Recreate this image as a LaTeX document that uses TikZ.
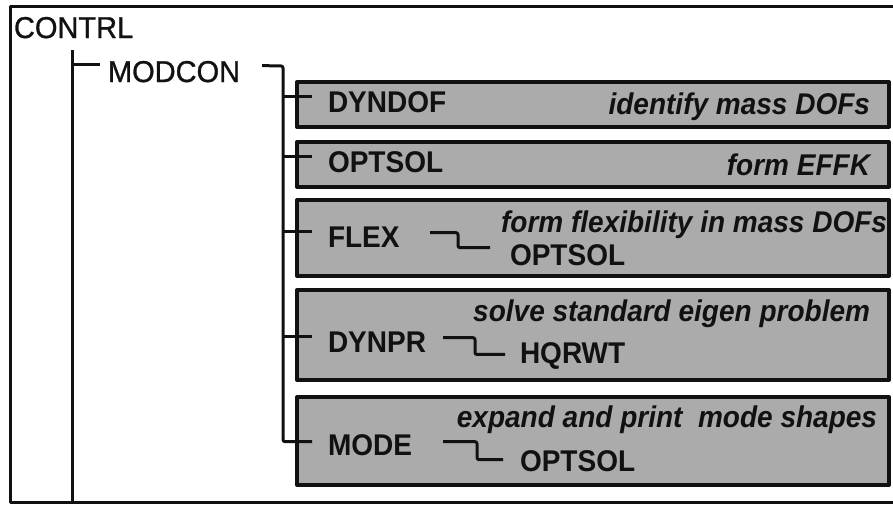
\documentclass[tikz,border=0pt]{standalone}
\usepackage{fontspec}
\setmainfont{Liberation Sans}
\newfontfamily\topfont[FakeBold=1]{Liberation Sans}
\usetikzlibrary{calc}
\definecolor{boxshade}{HTML}{ABABAB}
\definecolor{inkcolor}{HTML}{111111}

\begin{document}
\begin{tikzpicture}[
    x=1pt, y=-1pt,
    line width=3pt,
    line join=round,
    draw=inkcolor,
    every node/.style={inner sep=0pt, outer sep=0pt, text=inkcolor},
    topname/.style={font=\topfont\fontsize{29}{31}\selectfont, anchor=base west, yscale=1.04},
    subname/.style={font=\fontsize{28}{30}\selectfont\bfseries, anchor=base west, yscale=1.07},
    duty/.style={font=\fontsize{28}{30}\selectfont\bfseries\itshape, anchor=base east, yscale=1.07},
    unitbox/.style={draw=inkcolor, fill=boxshade, line width=4pt, anchor=north west, minimum width=592pt},
    link/.style={rounded corners=2pt}
]

    % Page size and outer frame (right side runs off the page)
    \useasboundingbox (0,0) rectangle (893,504);
    \draw (893,6) -- (10,6) -- (10,502) -- (893,502);

    % Top level
    \node[topname] (contrl) at (14,38) {CONTRL};
    \node[topname] (modcon) at (108,82) {MODCON};
    \coordinate (trunktop) at (72,50);
    \coordinate (trunkbot) at (72,502);
    \coordinate (mctick) at ($(modcon.west)+(-8,-7)$);
    \draw (trunktop) -- (trunkbot);
    \draw (trunktop |- mctick) -- (mctick);

    % Shaded boxes for the MODCON calls
    \node[unitbox, minimum height=45pt] (dyndofbox) at (297,82) {};
    \node[unitbox, minimum height=45pt] (optsolbox) at (297,142) {};
    \node[unitbox, minimum height=76pt] (flexbox) at (297,200) {};
    \node[unitbox, minimum height=90pt] (dynprbox) at (297,290) {};
    \node[unitbox, minimum height=88pt] (modebox) at (297,397) {};

    % Routine names
    \node[subname] (dyndof) at (328,112) {DYNDOF};
    \node[subname] (optsol) at (328,172) {OPTSOL};
    \node[subname] (flex) at (328,247) {FLEX};
    \node[subname] (dynpr) at (328,352) {DYNPR};
    \node[subname] (mode) at (328,455) {MODE};

    % What each one does
    \node[duty] (dyndofduty) at (870,114) {identify mass DOFs};
    \node[duty] (optsolduty) at (870,175) {form EFFK};
    \node[duty] (flexduty) at (887,232) {form flexibility in mass DOFs};
    \node[duty] (dynprduty) at (870,321) {solve standard eigen problem};
    \node[duty] (modeduty) at (877,427) {expand and print~ mode shapes};

    % Lower level calls
    \node[subname] (flexcall) at (510,265) {OPTSOL};
    \node[subname] (hqrwt) at (520,363) {HQRWT};
    \node[subname] (modecall) at (520,471) {OPTSOL};

    % MODCON bus
    \coordinate (bus) at (283,66);
    \coordinate (mcout) at ($(modcon.east)+(22,-6)$);
    \foreach \n in {dyndof, optsol, flex, dynpr}
        \draw (bus |- {$(\n.west)+(0,-5)$}) -- ($(\n.west)+(-16,-5)$);
    \draw[link] (mcout) -- (bus) -- (bus |- {$(mode.west)+(0,-3)$}) -- ($(mode.west)+(-16,-3)$);

    % Calls one level down
    \draw[link] ($(flex.west)+(102,-4)$) -- ++(28,0) |- ($(flexcall.west)+(-20,-7)$);
    \draw[link] ($(dynpr.west)+(115,-4)$) -- ++(32,0) |- ($(hqrwt.west)+(-15,-1)$);
    \draw[link] ($(mode.west)+(115,-3)$) -- ++(34,0) |- ($(modecall.west)+(-17,-1)$);

\end{tikzpicture}
\end{document}
